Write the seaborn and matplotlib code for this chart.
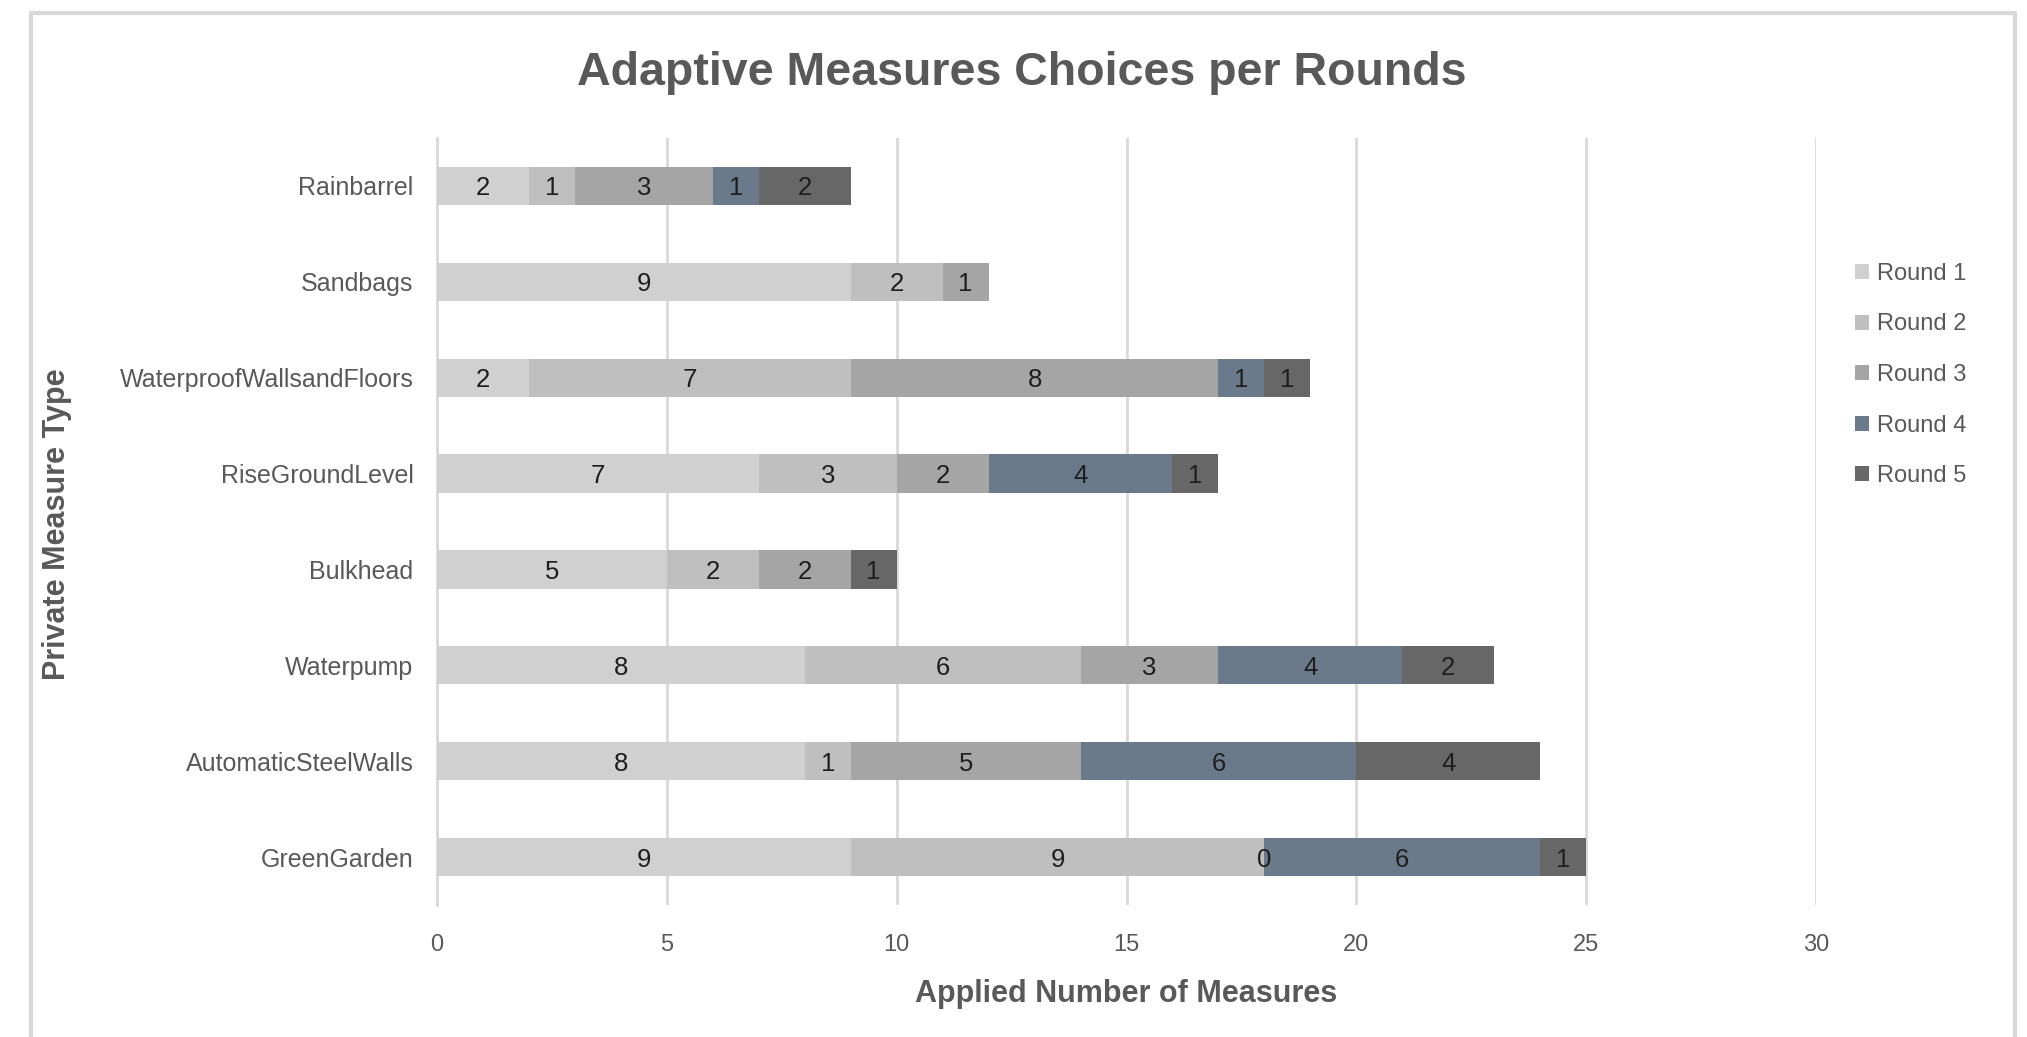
import numpy as np
import pandas as pd
import matplotlib
matplotlib.use("Agg")
import matplotlib.pyplot as plt
import seaborn as sns
from matplotlib.patches import Patch
from matplotlib.lines import Line2D

# Measures, listed top to bottom
measures = ["Rainbarrel", "Sandbags", "WaterproofWallsandFloors", "RiseGroundLevel",
            "Bulkhead", "Waterpump", "AutomaticSteelWalls", "GreenGarden"]
round_names = ["Round 1", "Round 2", "Round 3", "Round 4", "Round 5"]

# Number of times each measure was applied in each round (None = not chosen)
round1 = [2, 9, 2, 7, 5, 8, 8, 9]
round2 = [1, 2, 7, 3, 2, 6, 1, 9]
round3 = [3, 1, 8, 2, 2, 3, 5, 0]
round4 = [1, None, 1, 4, None, 4, 6, 6]
round5 = [2, None, 1, 1, 1, 2, 4, 1]

round_colors = ["#D0D0D0", "#BFBFBF", "#A5A5A5", "#6B7A8A", "#676767"]

counts = pd.DataFrame(
    {name: pd.array(vals, dtype="Float64").astype(float)
     for name, vals in zip(round_names, [round1, round2, round3, round4, round5])},
    index=measures,
)
cumulative = counts.fillna(0).cumsum(axis=1)

sns.set_theme(style="white")
plt.rcParams["font.family"] = ["Liberation Sans", "DejaVu Sans"]

W, H = 2027, 1037
fig = plt.figure(figsize=(W / 100, H / 100), dpi=100)
fig.patch.set_facecolor("white")

ax_left, ax_right, ax_top, ax_bottom = 437, 1816, 138, 905
ax = fig.add_axes([ax_left / W, 1 - ax_bottom / H,
                   (ax_right - ax_left) / W, (ax_bottom - ax_top) / H])

# Stacked bars: draw cumulative totals from the last round backwards
for name, color in reversed(list(zip(round_names, round_colors))):
    sns.barplot(x=cumulative[name].values, y=measures, order=measures,
                orient="h", color=color, saturation=1, width=0.4,
                errorbar=None, edgecolor="none", linewidth=0, ax=ax)

# Segment value labels
for name in round_names:
    for j, m in enumerate(measures):
        v = counts.loc[m, name]
        if pd.isna(v):
            continue
        ax.text(cumulative.loc[m, name] - v / 2, j, f"{int(v)}",
                ha="center", va="center_baseline", fontsize=18.5, color="#1E1E1E")

ax.set_xlim(0, 30)
ax.set_ylim(7.5, -0.5)
ax.set_xticks(range(0, 31, 5))
ax.grid(axis="x", color="#D9D9D9", linewidth=2)
ax.grid(axis="y", visible=False)
ax.set_axisbelow(True)
for side in ["top", "right", "bottom"]:
    ax.spines[side].set_visible(False)
ax.spines["left"].set_color("#D9D9D9")
ax.spines["left"].set_linewidth(2)
ax.spines["left"].set_zorder(0)

ax.tick_params(axis="x", length=3, width=2, color="#D9D9D9", pad=18,
               labelsize=17, labelcolor="#595959")
ax.tick_params(axis="y", length=0, pad=17, labelsize=18, labelcolor="#595959")

ax.set_ylabel("")
ax.set_xlabel("Applied Number of Measures", fontsize=22, fontweight="bold",
              color="#595959")
ax.xaxis.set_label_coords(0.5, (ax_bottom - 994) / (ax_bottom - ax_top))
ax.xaxis.label.set_va("center")

fig.text(57 / W, 1 - 524 / H, "Private Measure Type", rotation=90,
         ha="center", va="center", fontsize=22, fontweight="bold", color="#595959")

fig.text(1022 / W, 1 - 85 / H, "Adaptive Measures Choices per Rounds",
         ha="center", va="baseline", fontsize=33.5, fontweight="bold",
         color="#595959")

handles = [Patch(facecolor=c, edgecolor="none") for c in round_colors]
fig.legend(handles, round_names, loc="center left",
           bbox_to_anchor=(1855 / W, 1 - 375 / H), frameon=False, fontsize=17,
           labelcolor="#595959", handlelength=0.6, handleheight=0.6,
           handletextpad=0.35, labelspacing=1.21, borderpad=0, borderaxespad=0)

# Chart-area frame
frame_kw = dict(transform=fig.transFigure, color="#D9D9D9", linewidth=3)
fig.add_artist(Line2D([31 / W, 31 / W], [0, 1 - 13 / H], **frame_kw))
fig.add_artist(Line2D([31 / W, 2015 / W], [1 - 13 / H, 1 - 13 / H], **frame_kw))
fig.add_artist(Line2D([2015 / W, 2015 / W], [0, 1 - 13 / H], **frame_kw))

fig.savefig("out.png", dpi=100)
